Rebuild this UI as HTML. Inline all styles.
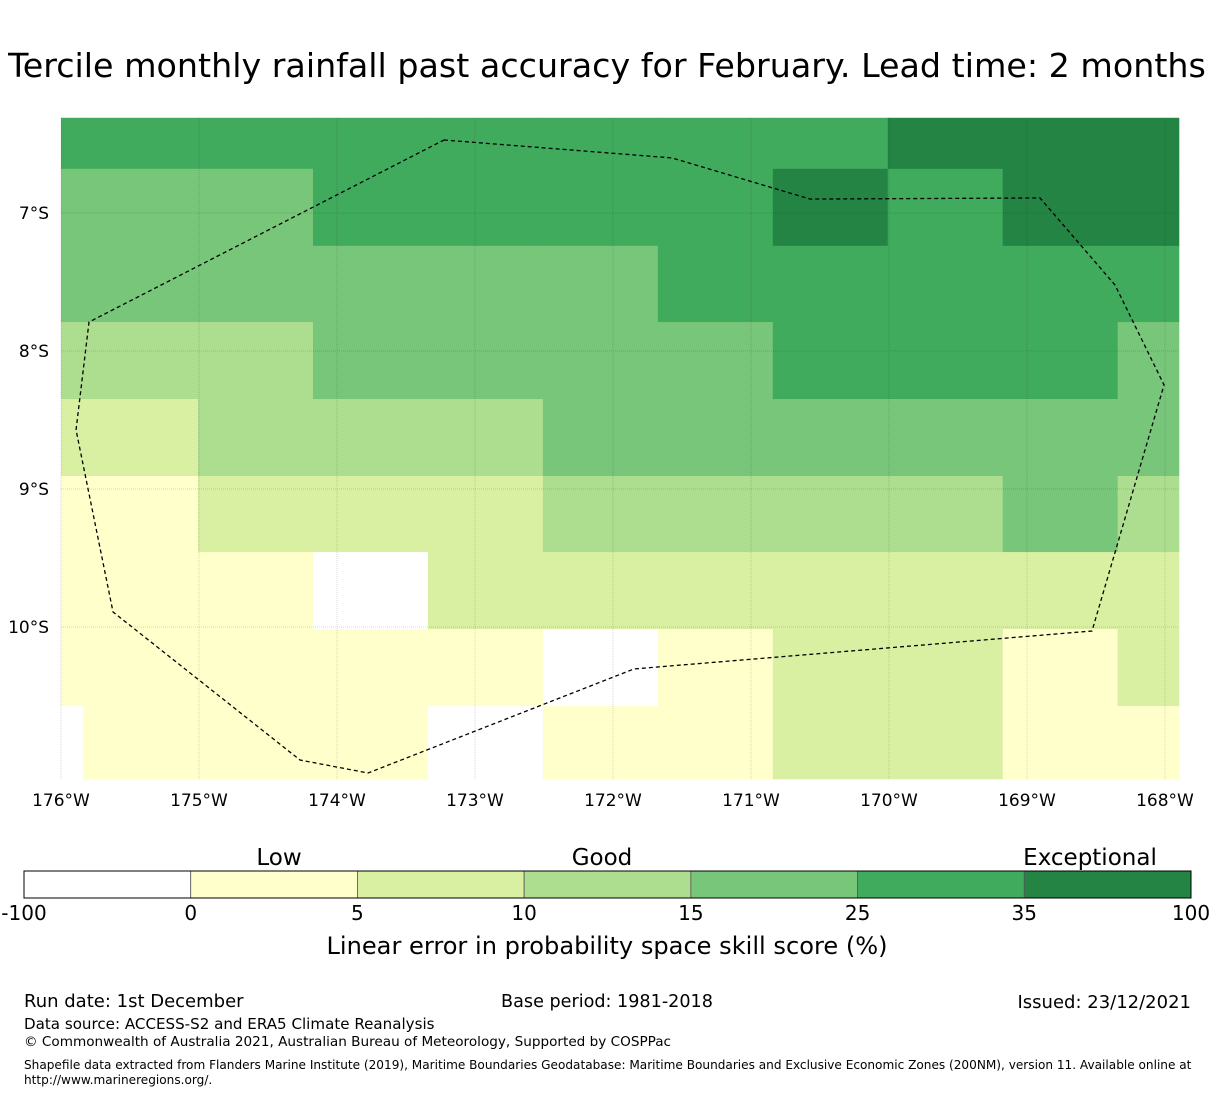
<!DOCTYPE html>
<html><head><meta charset="utf-8"><style>
body{margin:0;background:#fff;font-family:"Liberation Sans","DejaVu Sans",sans-serif;}
svg text{font-family:"DejaVu Sans","Liberation Sans",sans-serif;}
</style></head><body>
<svg width="1215" height="1095" xmlns="http://www.w3.org/2000/svg">
<text x="607" y="77" font-size="33.3" text-anchor="middle">Tercile monthly rainfall past accuracy for February. Lead time: 2 months</text>
<g id="map"></g>
<g id="cbar"></g>
<text x="279" y="865" font-size="23" text-anchor="middle">Low</text>
<text x="602" y="865" font-size="23" text-anchor="middle">Good</text>
<text x="1090" y="865" font-size="23" text-anchor="middle">Exceptional</text>
<text x="607" y="954" font-size="24.1" text-anchor="middle">Linear error in probability space skill score (%)</text>
<text x="24" y="1007" font-size="18">Run date: 1st December</text>
<text x="607" y="1007" font-size="17.6" text-anchor="middle">Base period: 1981-2018</text>
<text x="1191" y="1008" font-size="18" text-anchor="end">Issued: 23/12/2021</text>
<text x="24" y="1029" font-size="15.1">Data source: ACCESS-S2 and ERA5 Climate Reanalysis</text>
<text x="24" y="1046" font-size="13.6">© Commonwealth of Australia 2021, Australian Bureau of Meteorology, Supported by COSPPac</text>
<text x="24" y="1069" font-size="12.1">Shapefile data extracted from Flanders Marine Institute (2019), Maritime Boundaries Geodatabase: Maritime Boundaries and Exclusive Economic Zones (200NM), version 11. Available online at</text>
<text x="24" y="1084" font-size="12.1">http://www.marineregions.org/.</text>
</svg>
<script>
const binEdges=[-100,0,5,10,15,25,35,100];
const binColors=['#ffffff','#ffffcc','#d9f0a3','#addd8e','#78c679','#41ab5d','#238443'];
const tickLabels=['-100','0','5','10','15','25','35','100'];
const lonTicks=[-176,-175,-174,-173,-172,-171,-170,-169,-168];
const latTicks=[-7,-8,-9,-10];
// skill score grid (rows top->bottom, columns left->right)
const skillRows=[
[30,30,30,30,30,30,30,30,40,40,40],
[20,20,20,30,30,30,30,40,30,40,40],
[20,20,20,20,20,20,30,30,30,30,30],
[12,12,12,20,20,20,20,30,30,30,20],
[7,7,12,12,12,20,20,20,20,20,20],
[2,2,7,7,7,12,12,12,12,20,12],
[2,2,2,-5,7,7,7,7,7,7,7],
[2,2,2,2,2,-5,2,7,7,2,7],
[-5,2,2,2,-5,2,2,7,7,2,2]];
const colLonEdges=[-176,-175.84,-175.007,-174.174,-173.341,-172.508,-171.675,-170.842,-170.009,-169.176,-168.343,-167.9];
const rowLatEdges=[-6.31,-6.68,-7.238,-7.79,-8.348,-8.906,-9.457,-10.015,-10.573,-11.1];
const eezLon=[-173.225,-171.572,-170.572,-168.906,-168.362,-168.007,-168.529,-171.848,-173.775,-174.268,-175.623,-175.891,-175.797];
const eezLat=[-6.471,-6.601,-6.899,-6.891,-7.522,-8.246,-10.029,-10.304,-11.058,-10.964,-9.891,-8.572,-7.79];

const NS='http://www.w3.org/2000/svg';
const X=lon=>61+(lon+176)*138;
const Y=lat=>213+(-lat-7)*138;
const colorOf=v=>{for(let i=0;i<7;i++){if(v<binEdges[i+1])return binColors[i];}return binColors[6];};
function mk(tag,attrs,parent){const e=document.createElementNS(NS,tag);for(const k in attrs)e.setAttribute(k,attrs[k]);parent.appendChild(e);return e;}
const map=document.getElementById('map');
skillRows.forEach((row,r)=>row.forEach((v,c)=>{
  const x0=X(colLonEdges[c]),x1=X(colLonEdges[c+1]),y0=Y(rowLatEdges[r]),y1=Y(rowLatEdges[r+1]);
  const e=mk('rect',{x:x0,y:y0,width:x1-x0+0.5,height:y1-y0+0.5,fill:colorOf(v)},map);
  
  
}));
lonTicks.forEach(l=>{
  const g=mk('line',{x1:X(l),x2:X(l),y1:118,y2:780,stroke:'#000','stroke-opacity':0.3,'stroke-width':0.5,'stroke-dasharray':'1,1'},map);
  
  
  const t=mk('text',{x:X(l),y:806,'font-size':17,'text-anchor':'middle'},map);
  t.textContent=Math.abs(l)+'°W';
  
  
});
latTicks.forEach(l=>{
  const g=mk('line',{x1:61,x2:1179,y1:Y(l),y2:Y(l),stroke:'#000','stroke-opacity':0.3,'stroke-width':0.5,'stroke-dasharray':'1,1'},map);
  
  
  const t=mk('text',{x:49,y:Y(l)+6,'font-size':17,'text-anchor':'end'},map);
  t.textContent=Math.abs(l)+'°S';
  
  
});
const pts=eezLon.map((lo,i)=>X(lo)+','+Y(eezLat[i])).join(' ');
const eez=mk('polygon',{points:pts,fill:'none',stroke:'#000','stroke-width':1.3,'stroke-dasharray':'4,3'},map);


const cb=document.getElementById('cbar');
const segW=(1191-24)/7;
binColors.forEach((c,i)=>{
  const r=mk('rect',{x:24+i*segW,y:871,width:segW,height:27,fill:c,stroke:'#555','stroke-width':0.8},cb);
  
  
});
mk('rect',{x:24,y:871,width:1167,height:27,fill:'none',stroke:'#000','stroke-width':1},cb);
tickLabels.forEach((t,i)=>{
  const e=mk('text',{x:24+i*segW,y:920,'font-size':20,'text-anchor':'middle'},cb);
  e.textContent=t;
  
  
});
</script>
</body></html>
